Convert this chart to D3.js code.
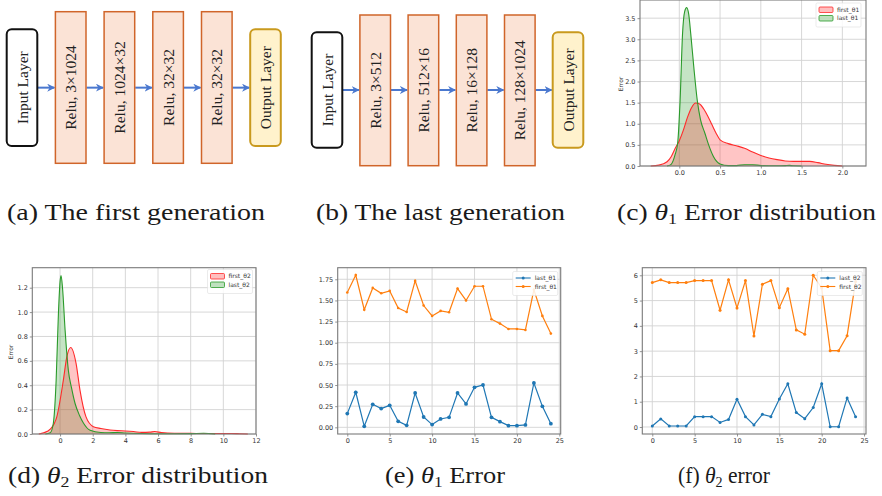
<!DOCTYPE html>
<html lang="en">
<head>
<meta charset="UTF-8">
<script src="https://d3js.org/d3.v7.min.js"></script>
<style>
  body { margin: 0; background: white; }
  svg { display: block; }
</style>
</head>
<body>
<div id="chart"></div>
<script>
// ---- network diagrams (a) and (b)
const layersA = ["Input Layer", "Relu, 3×1024", "Relu, 1024×32", "Relu, 32×32", "Relu, 32×32", "Output Layer"];
const layersB = ["Input Layer", "Relu, 3×512", "Relu, 512×16", "Relu, 16×128", "Relu, 128×1024", "Output Layer"];

// ---- (c) theta1 error distribution, density curves
const c_first_x = [-0.35, -0.25, -0.15, -0.1, -0.05, 0, 0.05, 0.1, 0.15, 0.2, 0.25, 0.3, 0.35, 0.4, 0.45, 0.5, 0.6, 0.7, 0.8, 0.9, 1.0, 1.1, 1.2, 1.3, 1.4, 1.5, 1.6, 1.7, 1.8, 1.9, 2.0];
const c_first_d = [0, 0.02, 0.1, 0.22, 0.42, 0.6, 0.85, 1.15, 1.38, 1.49, 1.47, 1.35, 1.18, 0.98, 0.78, 0.62, 0.53, 0.48, 0.42, 0.33, 0.25, 0.19, 0.15, 0.12, 0.11, 0.11, 0.11, 0.08, 0.04, 0.015, 0];
const c_last_x = [-0.15, -0.1, -0.05, -0.02, 0.01, 0.04, 0.065, 0.09, 0.115, 0.14, 0.18, 0.22, 0.26, 0.315, 0.36, 0.42, 0.5, 0.6, 0.7, 0.8, 0.9, 1.0, 1.1, 1.2, 1.3, 1.35, 1.4, 1.5];
const c_last_d = [0, 0.04, 0.28, 0.54, 1.56, 3.14, 3.65, 3.75, 3.6, 3.14, 2.3, 1.56, 1.1, 0.77, 0.5, 0.22, 0.05, 0.01, 0.01, 0.03, 0.03, 0.01, 0.005, 0.005, 0.01, 0.015, 0.005, 0];

// ---- (d) theta2 error distribution
const d_first_x = [-1.3, -1.0, -0.6, -0.2, 0.2, 0.41, 0.65, 0.98, 1.22, 1.59, 2.04, 2.5, 3.06, 3.5, 4, 4.5, 5, 5.5, 5.8, 6.2, 7, 8, 9, 10, 10.5, 11, 11.5];
const d_first_d = [0, 0.01, 0.04, 0.14, 0.44, 0.63, 0.71, 0.58, 0.36, 0.14, 0.06, 0.045, 0.033, 0.028, 0.025, 0.02, 0.013, 0.015, 0.02, 0.012, 0.006, 0.005, 0.004, 0.004, 0.004, 0.002, 0];
const d_last_x = [-0.9, -0.6, -0.41, -0.24, -0.1, 0, 0.06, 0.15, 0.31, 0.51, 0.7, 0.92, 1.2, 1.43, 1.84, 2.5, 3, 3.5, 4, 5, 6, 7, 8, 8.8, 9.5];
const d_last_d = [0, 0.01, 0.09, 0.44, 0.99, 1.25, 1.3, 1.2, 0.85, 0.52, 0.38, 0.25, 0.15, 0.09, 0.03, 0.012, 0.01, 0.012, 0.008, 0.004, 0.002, 0.002, 0.003, 0.006, 0];

// ---- (e) theta1 error per sample
const e_last = [0.162, 0.414, 0.012, 0.272, 0.221, 0.26, 0.071, 0.024, 0.406, 0.122, 0.032, 0.099, 0.118, 0.406, 0.276, 0.473, 0.50, 0.118, 0.067, 0.02, 0.02, 0.028, 0.524, 0.248, 0.043];
const e_first = [1.593, 1.80, 1.39, 1.648, 1.585, 1.613, 1.41, 1.364, 1.731, 1.44, 1.317, 1.376, 1.36, 1.64, 1.50, 1.668, 1.668, 1.278, 1.226, 1.163, 1.163, 1.151, 1.625, 1.317, 1.108];

// ---- (f) theta2 error per sample
const f_last = [0.04, 0.32, 0.04, 0.04, 0.04, 0.41, 0.41, 0.41, 0.18, 0.30, 1.10, 0.41, 0.08, 0.50, 0.41, 1.11, 1.71, 0.57, 0.33, 0.77, 1.71, 0.01, 0.01, 1.15, 0.41];
const f_first = [5.71, 5.82, 5.71, 5.71, 5.71, 5.79, 5.79, 5.79, 4.62, 5.82, 4.71, 5.79, 3.60, 5.65, 5.79, 4.72, 5.47, 3.84, 3.67, 6.0, 5.5, 3.02, 3.02, 3.61, 5.75];

const W = 882, H = 496;
const svg = d3.select("#chart").append("svg")
    .attr("width", W)
    .attr("height", H);

const serif = "'Liberation Serif', 'Times New Roman', serif";
const sans = "'DejaVu Sans', sans-serif";

svg.append("defs").append("marker")
    .attr("id", "arrow")
    .attr("viewBox", "0 0 10 10")
    .attr("refX", 9).attr("refY", 5)
    .attr("markerWidth", 4).attr("markerHeight", 4)
    .attr("markerUnits", "strokeWidth")
    .attr("orient", "auto")
    .append("path")
    .attr("d", "M0,0 L10,5 L0,10 L3,5 Z")
    .attr("fill", "#4a78cf");

// draws one network diagram
const drawNet = (layers, x0, step, ioTop, ioBot, reluTop, reluBot) => {
    const g = svg.append("g");
    const boxW = 30.6;
    const xs = d3.scaleLinear().domain([0, layers.length - 1]).range([x0, x0 + step * (layers.length - 1)]);
    const midY = (ioTop + ioBot) / 2;

    // arrows
    for (let i = 0; i < layers.length - 1; i++) {
        g.append("line")
            .attr("x1", xs(i) + boxW + 0.5).attr("x2", xs(i + 1) - 1)
            .attr("y1", midY).attr("y2", midY)
            .attr("stroke", "#4a78cf")
            .attr("stroke-width", 2)
            .attr("marker-end", "url(#arrow)");
    }

    layers.forEach((name, i) => {
        const io = i === 0 || i === layers.length - 1;
        const top = io ? ioTop : reluTop, bot = io ? ioBot : reluBot;
        let fill = "#fbe3d6", stroke = "#d0652a", rx = 0, sw = 1.5;
        if (i === 0) { fill = "#ffffff"; stroke = "#111"; rx = 5; sw = 2; }
        if (i === layers.length - 1) { fill = "#fff2cc"; stroke = "#c99a1e"; rx = 5; sw = 2; }
        g.append("rect")
            .attr("x", xs(i)).attr("y", top)
            .attr("width", boxW).attr("height", bot - top)
            .attr("rx", rx)
            .attr("fill", fill).attr("stroke", stroke).attr("stroke-width", sw);
        const cx = xs(i) + boxW / 2, cy = (top + bot) / 2;
        g.append("text")
            .attr("transform", `translate(${cx + 5.5},${cy}) rotate(-90)`)
            .attr("text-anchor", "middle")
            .attr("font-family", serif)
            .attr("font-size", 15.5)
            .attr("fill", "#222")
            .text(name);
    });
};

drawNet(layersA, 6.7, 48.7, 29.3, 146, 11.7, 163.3);
drawNet(layersB, 311.7, 48.2, 32.3, 147.7, 15, 165.7);

// axes frame + grid + ticks
const drawAxes = (g, x, y, xTicks, yTicks, xFmt, yFmt) => {
    const [l, r] = x.range(), [b, t] = y.range();
    g.append("g").selectAll("line.gx").data(xTicks).join("line")
        .attr("x1", d => x(d)).attr("x2", d => x(d))
        .attr("y1", t).attr("y2", b)
        .attr("stroke", "#d2d2d2").attr("stroke-width", 0.9);
    g.append("g").selectAll("line.gy").data(yTicks).join("line")
        .attr("x1", l).attr("x2", r)
        .attr("y1", d => y(d)).attr("y2", d => y(d))
        .attr("stroke", "#d2d2d2").attr("stroke-width", 0.9);

    const xa = g.append("g")
        .attr("transform", `translate(0,${b})`)
        .call(d3.axisBottom(x).tickValues(xTicks).tickFormat(xFmt).tickSize(2.5).tickPadding(2));
    const ya = g.append("g")
        .attr("transform", `translate(${l},0)`)
        .call(d3.axisLeft(y).tickValues(yTicks).tickFormat(yFmt).tickSize(2.5).tickPadding(2));
    [xa, ya].forEach(a => {
        a.select(".domain").remove();
        a.selectAll("line").attr("stroke", "#666").attr("stroke-width", 0.7);
        a.selectAll("text").attr("font-family", sans).attr("font-size", 6.5).attr("fill", "#333");
    });
    return () => g.append("rect")
        .attr("x", l).attr("y", t)
        .attr("width", r - l).attr("height", b - t)
        .attr("fill", "none").attr("stroke", "#7a7a7a").attr("stroke-width", 1.1);
};

const drawLegend = (g, x0, y0, w, entries, patch) => {
    const lg = g.append("g").attr("transform", `translate(${x0},${y0})`);
    lg.append("rect")
        .attr("width", w).attr("height", 7 + entries.length * 8.5)
        .attr("rx", 1.5)
        .attr("fill", "white").attr("fill-opacity", 0.85)
        .attr("stroke", "#ddd").attr("stroke-width", 0.6);
    entries.forEach((e, i) => {
        const cy = 6.5 + i * 8.5;
        if (patch) {
            lg.append("rect")
                .attr("x", 3).attr("y", cy - 2.5).attr("width", 14).attr("height", 5.5)
                .attr("rx", 1)
                .attr("fill", e.color).attr("fill-opacity", 0.3)
                .attr("stroke", e.color).attr("stroke-width", 0.8);
        } else {
            lg.append("line")
                .attr("x1", 3).attr("x2", 18).attr("y1", cy).attr("y2", cy)
                .attr("stroke", e.color).attr("stroke-width", 1.1);
            lg.append("circle").attr("cx", 10.5).attr("cy", cy).attr("r", 1.5).attr("fill", e.color);
        }
        lg.append("text")
            .attr("x", patch ? 21 : 22).attr("y", cy + 2.2)
            .attr("font-family", sans).attr("font-size", 6)
            .attr("fill", "#333")
            .text(e.name);
    });
};

// density panel
const kdePanel = (opts) => {
    const g = svg.append("g");
    const x = d3.scaleLinear().domain(opts.xDomain).range([opts.left, opts.right]);
    const y = d3.scaleLinear().domain(opts.yDomain).range([opts.bottom, opts.top]);
    const frame = drawAxes(g, x, y, opts.xTicks, opts.yTicks, opts.xFmt, opts.yFmt);

    const area = d3.area().x(d => x(d[0])).y0(y(0)).y1(d => y(d[1])).curve(d3.curveMonotoneX);
    const line = d3.line().x(d => x(d[0])).y(d => y(d[1])).curve(d3.curveMonotoneX);
    const series = opts.series.map(s => ({ ...s, pts: d3.zip(s.xs, s.ds) }));
    series.slice().reverse().forEach(s => {
        g.append("path").attr("d", area(s.pts)).attr("fill", s.color).attr("fill-opacity", 0.27);
    });
    series.forEach(s => {
        g.append("path").attr("d", line(s.pts)).attr("fill", "none")
            .attr("stroke", s.color).attr("stroke-width", 1.1);
    });
    frame();
    g.append("text")
        .attr("transform", `translate(${opts.ylabX},${opts.ylabY}) rotate(-90)`)
        .attr("text-anchor", "middle")
        .attr("font-family", sans).attr("font-size", 6)
        .attr("fill", "#333")
        .text("Error");
    drawLegend(g, opts.legX, opts.legY, 45, series, true);
};

kdePanel({
    xDomain: [-0.482, 2.29], yDomain: [0, 3.93],
    left: 640, right: 866, top: 0, bottom: 166,
    xTicks: [0, 0.5, 1, 1.5, 2], yTicks: [0, 0.5, 1, 1.5, 2, 2.5, 3, 3.5],
    xFmt: d3.format(".1f"), yFmt: d3.format(".1f"),
    ylabX: 623, ylabY: 84, legX: 816, legY: 3,
    series: [
        { name: "first_θ1", color: "#ff2a2a", xs: c_first_x, ds: c_first_d },
        { name: "last_θ1", color: "#2a9a2a", xs: c_last_x, ds: c_last_d }
    ]
});

kdePanel({
    xDomain: [-1.7, 12.0], yDomain: [0, 1.364],
    left: 32.3, right: 256, top: 267.7, bottom: 434,
    xTicks: [0, 2, 4, 6, 8, 10, 12], yTicks: [0, 0.2, 0.4, 0.6, 0.8, 1.0, 1.2],
    xFmt: d3.format("d"), yFmt: d3.format(".1f"),
    ylabX: 13, ylabY: 352, legX: 207.5, legY: 269.5,
    series: [
        { name: "first_θ2", color: "#ff2a2a", xs: d_first_x, ds: d_first_d },
        { name: "last_θ2", color: "#2a9a2a", xs: d_last_x, ds: d_last_d }
    ]
});

// line panel
const linePanel = (opts) => {
    const g = svg.append("g");
    const x = d3.scaleLinear().domain(opts.xDomain).range([opts.left, opts.right]);
    const y = d3.scaleLinear().domain(opts.yDomain).range([opts.bottom, opts.top]);
    const frame = drawAxes(g, x, y, [0, 5, 10, 15, 20, 25], opts.yTicks, d3.format("d"), opts.yFmt);
    const line = d3.line().x((d, i) => x(i)).y(d => y(d));
    opts.series.forEach(s => {
        g.append("path").attr("d", line(s.values)).attr("fill", "none")
            .attr("stroke", s.color).attr("stroke-width", 1.2);
        g.append("g").selectAll("circle").data(s.values).join("circle")
            .attr("cx", (d, i) => x(i)).attr("cy", d => y(d))
            .attr("r", s.r).attr("fill", s.color);
    });
    frame();
    drawLegend(g, opts.legX, opts.legY, 45, opts.series, false);
};

linePanel({
    xDomain: [-1.13, 25.16], yDomain: [-0.079, 1.887],
    left: 337.7, right: 560.7, top: 267.7, bottom: 434,
    yTicks: [0, 0.25, 0.5, 0.75, 1.0, 1.25, 1.5, 1.75], yFmt: d3.format(".2f"),
    legX: 512.7, legY: 271.5,
    series: [
        { name: "last_θ1", color: "#1f77b4", values: e_last, r: 1.9 },
        { name: "first_θ1", color: "#ff7f0e", values: e_first, r: 1.3 }
    ]
});

linePanel({
    xDomain: [-1.18, 25.23], yDomain: [-0.277, 6.30],
    left: 642.3, right: 866, top: 267.7, bottom: 434,
    yTicks: [0, 1, 2, 3, 4, 5, 6], yFmt: d3.format("d"),
    legX: 817.3, legY: 271.5,
    series: [
        { name: "last_θ2", color: "#1f77b4", values: f_last, r: 1.5 },
        { name: "first_θ2", color: "#ff7f0e", values: f_first, r: 1.5 }
    ]
});

// captions
const captions = [
    { x: 7, y: 220, w: 258, pre: "(a) The first generation" },
    { x: 316, y: 220, w: 249, pre: "(b) The last generation" },
    { x: 617, y: 220, w: 259, pre: "(c) ", th: "1", post: " Error distribution" },
    { x: 8, y: 483, w: 260, pre: "(d) ", th: "2", post: " Error distribution" },
    { x: 385, y: 483, w: 120, pre: "(e) ", th: "1", post: " Error" },
    { x: 678, y: 483, w: 92, pre: "(f) ", th: "2", post: " error" }
];
captions.forEach(c => {
    const t = svg.append("text")
        .attr("x", c.x).attr("y", c.y)
        .attr("font-family", serif)
        .attr("font-size", 23)
        .attr("fill", "#1a1a1a")
        .attr("textLength", c.w)
        .attr("lengthAdjust", "spacingAndGlyphs");
    t.append("tspan").text(c.pre);
    if (c.th) {
        t.append("tspan").attr("font-style", "italic").text("θ");
        t.append("tspan").attr("font-size", 15).attr("dy", 4).text(c.th);
        t.append("tspan").attr("dy", -4).text(c.post);
    }
});
</script>
</body>
</html>
